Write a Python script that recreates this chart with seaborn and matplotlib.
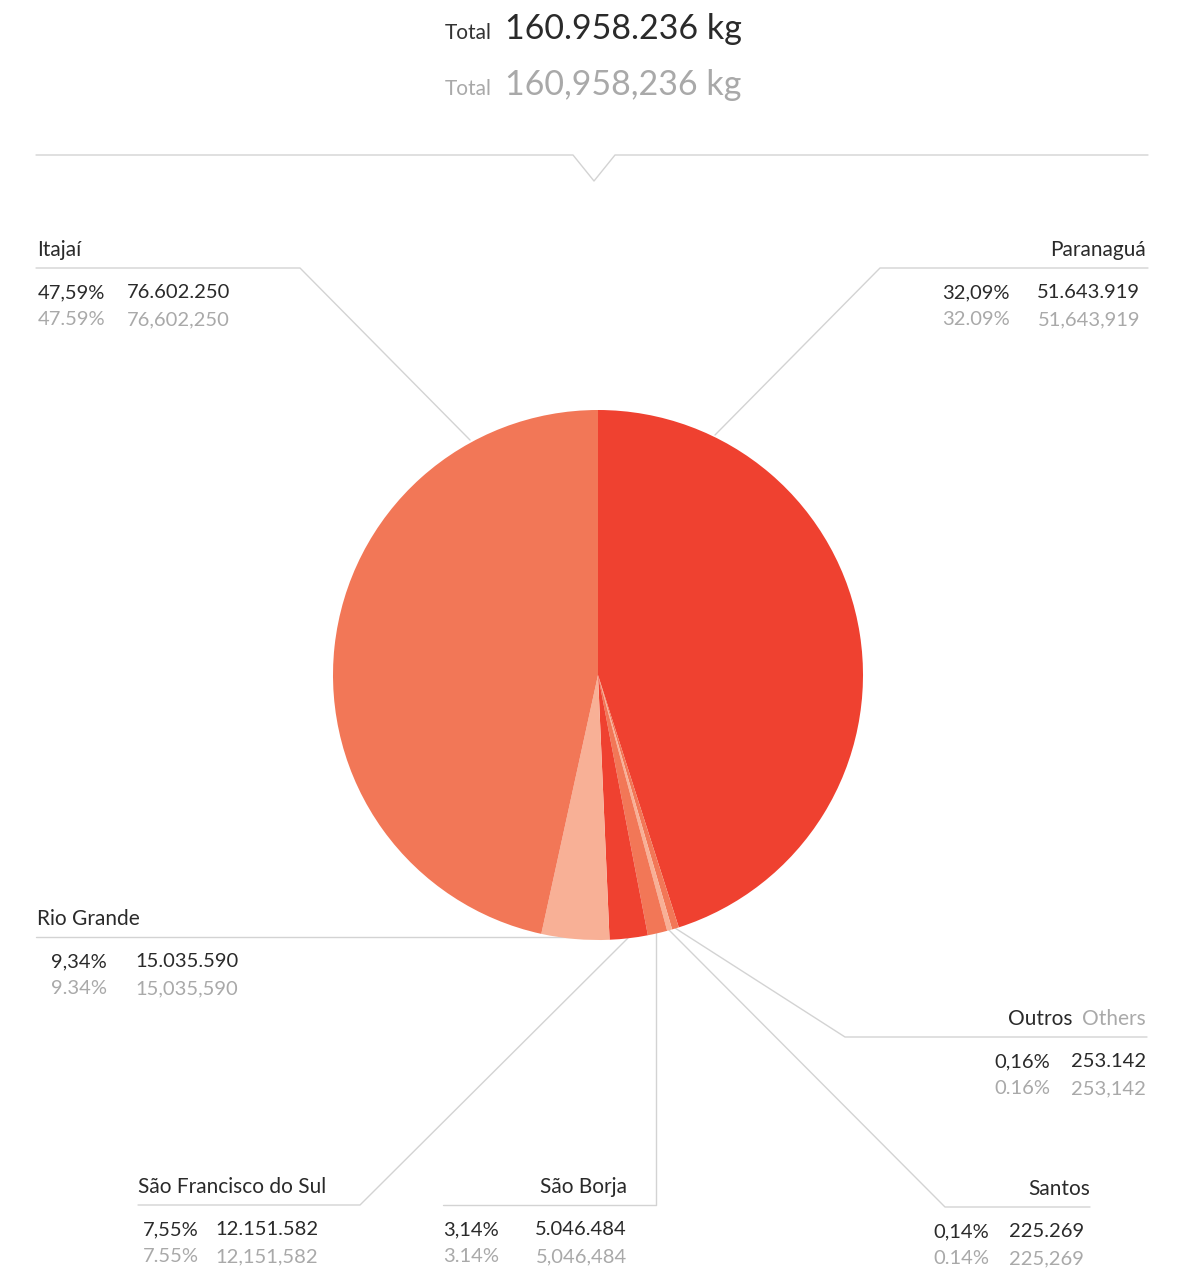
import matplotlib
matplotlib.use("Agg")
import matplotlib.pyplot as plt
import seaborn as sns

# printed data per port
ports = ["Itajaí", "Paranaguá", "Rio Grande", "São Francisco do Sul",
         "São Borja", "Santos", "Outros"]
pct = [47.59, 32.09, 9.34, 7.55, 3.14, 0.14, 0.16]
kg = [76602250, 51643919, 15035590, 12151582, 5046484, 225269, 253142]
total_kg = 160958236

# wedges as drawn, clockwise from 12 o'clock (they do not follow the printed shares)
wedge_ports = ["Paranaguá", "Outros", "Santos", "São Borja",
               "São Francisco do Sul", "Rio Grande", "Itajaí"]
wedge_share = [45.1, 0.42, 0.31, 1.19, 2.32, 4.13, 46.6]
wedge_colors = ["#EF4130", "#F27757", "#F8B096", "#F27757",
                "#EF4130", "#F8B096", "#F27757"]

DARK = "#2a2a2a"
GRAY = "#a9a9a9"
LINE = "#d3d3d3"
FS = 14.5

sns.set_theme(style="white")
plt.rcParams["font.family"] = ["Lato", "DejaVu Sans"]


def br(v, dec=0):
    s = f"{v:,.{dec}f}"
    return s.replace(",", "#").replace(".", ",").replace("#", ".")


def en(v, dec=0):
    return f"{v:,.{dec}f}"


fig = plt.figure(figsize=(11.83, 12.70), dpi=100)
ax = fig.add_axes([0, 0, 1, 1])

# y axis inverted later, so counterclock in data = clockwise on screen
ax.pie(wedge_share, colors=wedge_colors, center=(598, 675), radius=265,
       startangle=-90, counterclock=True,
       wedgeprops=dict(linewidth=0, antialiased=True))
ax.set_xlim(0, 1183)
ax.set_ylim(1270, 0)
ax.set_aspect("auto")
ax.axis("off")

# header
ax.text(492, 39, "Total", ha="right", va="baseline", fontsize=15, color="#333333")
ax.text(505, 39, br(total_kg) + " kg", ha="left", va="baseline", fontsize=24.5, color=DARK)
ax.text(492, 95, "Total", ha="right", va="baseline", fontsize=15, color=GRAY)
ax.text(505, 95, en(total_kg) + " kg", ha="left", va="baseline", fontsize=24.5, color=GRAY)

# divider with notch
ax.plot([36, 573, 594, 615, 1148], [155, 155, 181, 155, 155], color=LINE, lw=1)

# label layout: name anchor, underline y, pct / value anchors, leader path
layout = {
    "Itajaí": dict(nx=37, nha="left", ly=268, px=38, pha="left", vx=127, vha="left",
                   path=[(36, 268), (300, 268), (470, 440)]),
    "Paranaguá": dict(nx=1146, nha="right", ly=268, px=1010, pha="right", vx=1140, vha="right",
                      path=[(1148, 268), (880, 268), (715, 435)]),
    "Rio Grande": dict(nx=37, nha="left", ly=937, px=51, pha="left", vx=135, vha="left",
                       path=[(36, 937), (590, 937)]),
    "São Francisco do Sul": dict(nx=138, nha="left", ly=1205, px=143, pha="left", vx=215, vha="left",
                                 path=[(138, 1205), (360, 1205), (628, 938)]),
    "São Borja": dict(nx=627, nha="right", ly=1205, px=443, pha="left", vx=627, vha="right",
                      path=[(443, 1205), (656, 1205), (656, 932)]),
    "Santos": dict(nx=1090, nha="right", ly=1207, px=989, pha="right", vx=1084, vha="right",
                   path=[(1090, 1207), (945, 1207), (668, 929)]),
    "Outros": dict(nx=1073, nha="right", ly=1037, px=1050, pha="right", vx=1146, vha="right",
                   path=[(1147, 1037), (845, 1037), (675, 928)]),
}

for name, p, v in zip(ports, pct, kg):
    L = layout[name]
    xs, ys = zip(*L["path"])
    ax.plot(xs, ys, color=LINE, lw=1, zorder=0)
    ly = L["ly"]
    ax.text(L["nx"], ly - 12, name, ha=L["nha"], va="baseline", fontsize=15, color=DARK)
    if name == "Outros":
        ax.text(1146, ly - 12, "Others", ha="right", va="baseline", fontsize=15, color=GRAY)
    ax.text(L["px"], ly + 30, br(p, 2) + "%", ha=L["pha"], va="baseline", fontsize=FS, color=DARK)
    ax.text(L["vx"], ly + 30, br(v), ha=L["vha"], va="baseline", fontsize=FS, color=DARK)
    ax.text(L["px"], ly + 57, en(p, 2) + "%", ha=L["pha"], va="baseline", fontsize=FS, color=GRAY)
    ax.text(L["vx"], ly + 57, en(v), ha=L["vha"], va="baseline", fontsize=FS, color=GRAY)

fig.savefig("out.png", dpi=100, facecolor="white")
